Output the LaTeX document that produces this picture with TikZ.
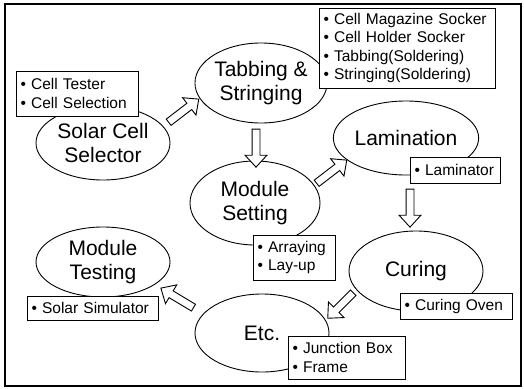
\documentclass[tikz,border=0pt]{standalone}
\usepackage{fontspec}
\setmainfont{Liberation Sans}
\usetikzlibrary{shapes.geometric,shapes.arrows}
\begin{document}
\begin{tikzpicture}[x=1pt,y=-1pt,
  stage/.style={ellipse,draw,line width=0.9pt,fill=white,inner sep=0pt,align=center,
    font=\fontsize{21}{24}\selectfont},
  infobox/.style={draw,line width=0.8pt,fill=white,inner xsep=4.5pt,inner ysep=2pt,align=left,
    font=\fontsize{15.5}{18.5}\selectfont},
  blk/.style={single arrow,draw,line width=0.9pt,fill=white,inner xsep=0pt,inner ysep=3.5pt,
    minimum width=21pt,single arrow head extend=7pt,single arrow tip angle=85,minimum height=38pt}]
\useasboundingbox (0,0) rectangle (524,388);
\draw[line width=1.2pt] (5,4) rectangle (521,386);
% stages
\node[stage,minimum width=134pt,minimum height=74pt] (sel) at (103,143) {Solar Cell\\Selector};
\node[stage,minimum width=132pt,minimum height=80pt] (tab) at (261,83) {Tabbing \&\\Stringing};
\node[stage,minimum width=130pt,minimum height=84pt] (ms) at (255,203) {Module\\Setting};
\node[stage,minimum width=134pt,minimum height=74pt] (lam) at (406,138) {Lamination};
\node[stage,minimum width=134pt,minimum height=80pt] (cur) at (416,271) {Curing};
\node[stage,minimum width=134pt,minimum height=78pt] (etc) at (262,333) {Etc.};
\node[stage,minimum width=134pt,minimum height=70pt] (mt) at (103,262) {Module\\Testing};
% info boxes
\node[infobox,text width=113pt,minimum height=45pt] (bsel) at (77,93.5)
  {\textbullet\ Cell Tester\\\textbullet\ Cell Selection};
\node[infobox,text width=167pt,minimum height=80pt] (btab) at (407,48)
  {\textbullet\ Cell Magazine Socker\\\textbullet\ Cell Holder Socker\\\textbullet\ Tabbing(Soldering)\\\textbullet\ Stringing(Soldering)};
\node[infobox,text width=81pt,minimum height=26pt] (blam) at (455,170) {\textbullet\ Laminator};
\node[infobox,text width=73pt,minimum height=45pt] (bms) at (294,257.5)
  {\textbullet\ Arraying\\\textbullet\ Lay-up};
\node[infobox,text width=122pt,minimum height=24pt] (bmt) at (92.5,308) {\textbullet\ Solar Simulator};
\node[infobox,text width=103pt,minimum height=26pt] (bcur) at (456,306) {\textbullet\ Curing Oven};
\node[infobox,text width=108pt,minimum height=43pt] (betc) at (346.5,357.5)
  {\textbullet\ Junction Box\\\textbullet\ Frame};
% block arrows
\node[blk,rotate=37.5] (a1) at (182,112) {};
\node[blk,rotate=-90] (a2) at (256,146) {};
\node[blk,rotate=37.5] (a3) at (330,173) {};
\node[blk,rotate=-90] (a4) at (410,206) {};
\node[blk,rotate=225,minimum height=36pt] (a5) at (342,304) {};
\node[blk,rotate=149] (a6) at (179,299) {};
\end{tikzpicture}
\end{document}
